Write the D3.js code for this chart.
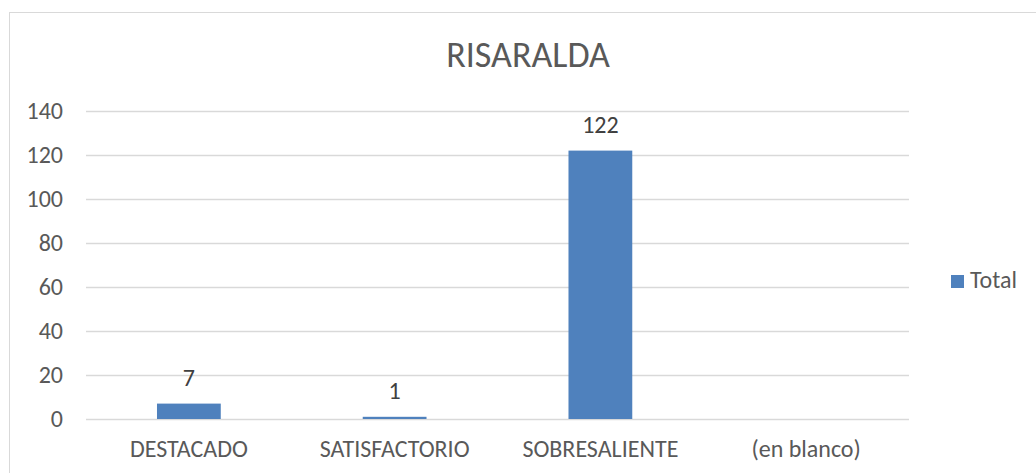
<!DOCTYPE html>
<html>
<head>
<meta charset="utf-8">
<script src="https://cdn.jsdelivr.net/npm/d3@7"></script>
<style>
  body { margin: 0; background: #fff; }
  svg text { font-family: Carlito, "Liberation Sans", sans-serif; fill: #595959; }
</style>
</head>
<body>
<svg id="chart"></svg>
<script>
var width = 1036, height = 473;

var categories = ["DESTACADO", "SATISFACTORIO", "SOBRESALIENTE", "(en blanco)"];
var totals = [7, 1, 122, null];
var yTicks = [0, 20, 40, 60, 80, 100, 120, 140];
var title = "RISARALDA";
var seriesName = "Total";

var svg = d3.select("#chart")
    .attr("width", width)
    .attr("height", height);

// chart area border
svg.append("rect")
    .attr("x", 9.5)
    .attr("y", 12.5)
    .attr("width", 1040)
    .attr("height", 480)
    .attr("fill", "none")
    .attr("stroke", "#d9d9d9");

var x = d3.scaleBand()
    .domain(categories)
    .range([86, 909])
    .paddingInner(0.69)
    .paddingOuter(0.345);

var y = d3.scaleLinear()
    .domain([0, 140])
    .range([419, 111]);

// gridlines
svg.selectAll("line.grid").data(yTicks).enter().append("line")
    .attr("class", "grid")
    .attr("x1", 86)
    .attr("x2", 909)
    .attr("y1", function(d) { return Math.round(y(d)) + 0.5; })
    .attr("y2", function(d) { return Math.round(y(d)) + 0.5; })
    .attr("stroke", "#d9d9d9")
    .attr("stroke-width", 1.3);

// y tick labels
svg.selectAll("text.ytick").data(yTicks).enter().append("text")
    .attr("class", "ytick")
    .attr("x", 63)
    .attr("y", function(d) { return y(d) + 8; })
    .attr("text-anchor", "end")
    .style("font-size", "24px")
    .text(function(d) { return d; });

// bars
var data = categories.map(function(c, i) { return { cat: c, value: totals[i] }; });

svg.selectAll("rect.bar").data(data.filter(function(d) { return d.value != null; }))
    .enter().append("rect")
    .attr("class", "bar")
    .attr("x", function(d) { return x(d.cat); })
    .attr("width", x.bandwidth())
    .attr("y", function(d) { return y(d.value); })
    .attr("height", function(d) { return y(0) - y(d.value); })
    .attr("fill", "#4f81bd");

// data labels
svg.selectAll("text.label").data(data.filter(function(d) { return d.value != null; }))
    .enter().append("text")
    .attr("class", "label")
    .attr("x", function(d) { return x(d.cat) + x.bandwidth() / 2; })
    .attr("y", function(d) { return y(d.value) - 18; })
    .attr("text-anchor", "middle")
    .style("font-size", "24px")
    .style("fill", "#404040")
    .text(function(d) { return d.value; });

// category labels
svg.selectAll("text.cat").data(categories).enter().append("text")
    .attr("class", "cat")
    .attr("x", function(d) { return x(d) + x.bandwidth() / 2; })
    .attr("y", 457)
    .attr("text-anchor", "middle")
    .style("font-size", "24px")
    .text(function(d) { return d; });

// title
svg.append("text")
    .attr("x", 528)
    .attr("y", 67)
    .attr("text-anchor", "middle")
    .style("font-size", "36px")
    .text(title);

// legend
svg.append("rect")
    .attr("x", 951)
    .attr("y", 275)
    .attr("width", 13)
    .attr("height", 13)
    .attr("fill", "#4f81bd");

svg.append("text")
    .attr("x", 970)
    .attr("y", 288)
    .style("font-size", "24px")
    .text(seriesName);
</script>
</body>
</html>
